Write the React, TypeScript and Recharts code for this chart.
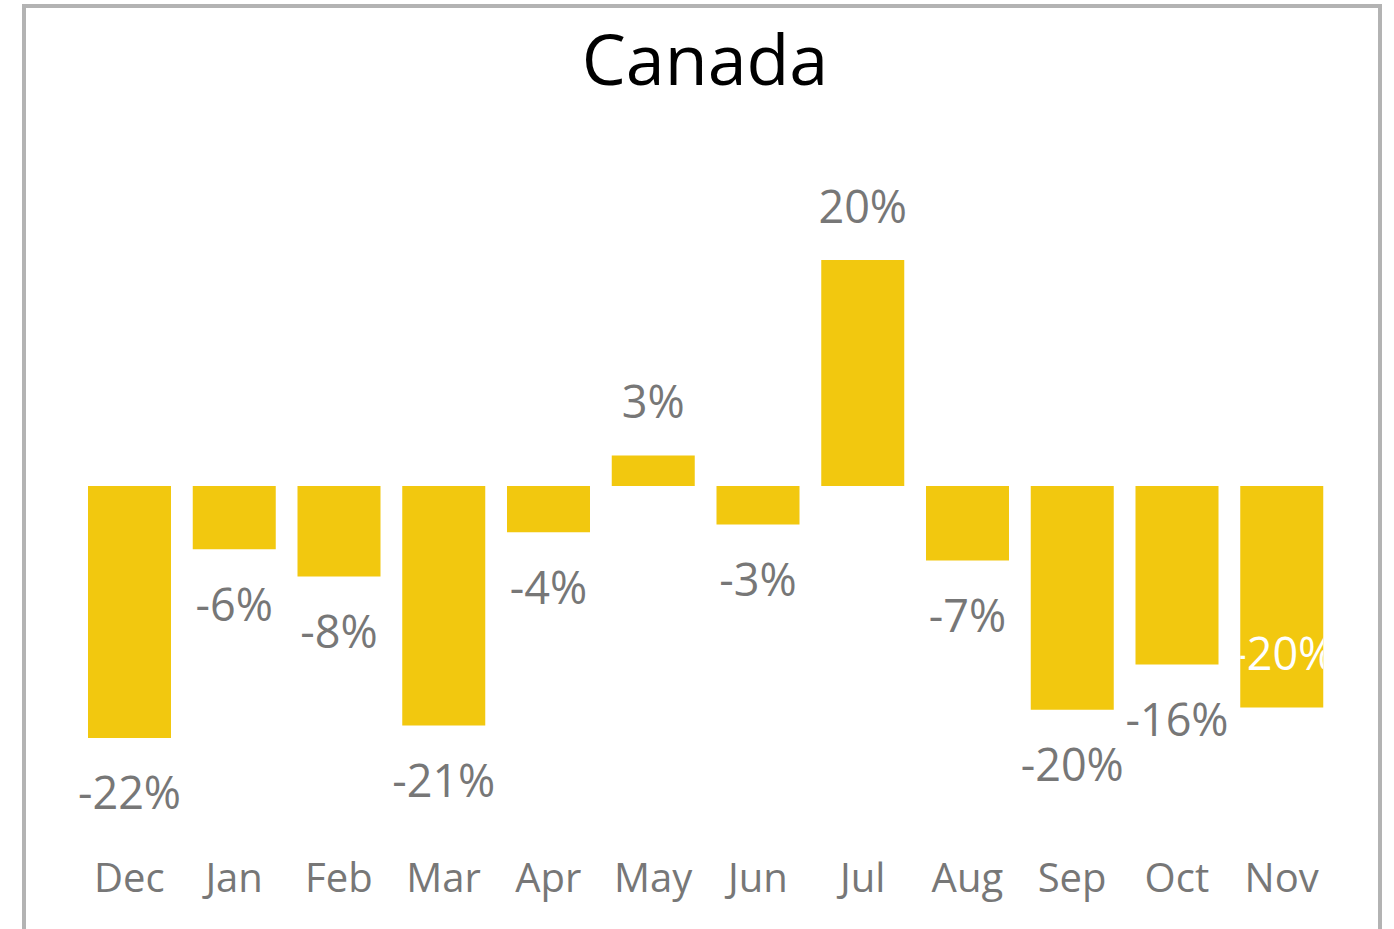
import { Bar, BarChart, LabelList, XAxis, YAxis } from "recharts";

const months = ["Dec", "Jan", "Feb", "Mar", "Apr", "May", "Jun", "Jul", "Aug", "Sep", "Oct", "Nov"];
const changePct = [-22.3, -5.6, -8.0, -21.2, -4.1, 2.7, -3.4, 20.0, -6.6, -19.8, -15.8, -19.6];
// Nov's label sits inside its bar in the original
const insideLabel = ["Nov"];

const data = months.map((month, i) => ({ month, change: changePct[i] }));

const FONT = "'Open Sans', 'Noto Sans', sans-serif";
const GRAY = "#777777";
const YELLOW = "#F2C80F";

function ValueLabel(props: any) {
  const { x, y, width, height, value, index } = props;
  const top = Math.min(y, y + height);
  const bottom = Math.max(y, y + height);
  const cx = x + width / 2;
  const text = `${Math.round(value)}%`;

  if (insideLabel.includes(months[index])) {
    const id = `clip-label-${index}`;
    return (
      <g>
        <defs>
          <clipPath id={id}>
            <rect x={x} y={top} width={width} height={bottom - top} />
          </clipPath>
        </defs>
        <text
          x={cx + 2}
          y={bottom - 55}
          textAnchor="middle"
          dominantBaseline="central"
          fill="#ffffff"
          fontSize={45}
          fontFamily={FONT}
          clipPath={`url(#${id})`}
        >
          {text}
        </text>
      </g>
    );
  }

  const ty = value >= 0 ? top - 55 : bottom + 54;
  return (
    <text
      x={cx}
      y={ty}
      textAnchor="middle"
      dominantBaseline="central"
      fill={GRAY}
      fontSize={45}
      fontFamily={FONT}
    >
      {text}
    </text>
  );
}

export default function App() {
  return (
    <div
      style={{
        position: "absolute",
        left: 0,
        top: 0,
        width: 1394,
        height: 929,
        overflow: "hidden",
        background: "#fff",
      }}
    >
      <div
        style={{
          position: "absolute",
          left: 22,
          top: 4,
          width: 1352,
          height: 960,
          border: "4px solid #b3b3b3",
          borderBottom: "none",
        }}
      />
      <div
        style={{
          position: "absolute",
          left: 0,
          top: 23,
          width: 1410,
          textAlign: "center",
          fontFamily: FONT,
          fontSize: 70,
          lineHeight: 1,
          color: "#000",
        }}
      >
        Canada
      </div>
      <div style={{ position: "absolute", left: 0, top: 0 }}>
        <BarChart
          width={1394}
          height={929}
          data={data}
          margin={{ top: 203.5, right: 60, bottom: 0, left: 77 }}
        >
          <XAxis
            dataKey="month"
            axisLine={false}
            tickLine={false}
            tickSize={0}
            tickMargin={39}
            height={104}
            interval={0}
            tick={{ fill: GRAY, fontSize: 40, fontFamily: FONT }}
          />
          <YAxis hide domain={[-30, 25]} />
          <Bar dataKey="change" fill={YELLOW} barSize={83} isAnimationActive={false}>
            <LabelList dataKey="change" content={<ValueLabel />} />
          </Bar>
        </BarChart>
      </div>
    </div>
  );
}
